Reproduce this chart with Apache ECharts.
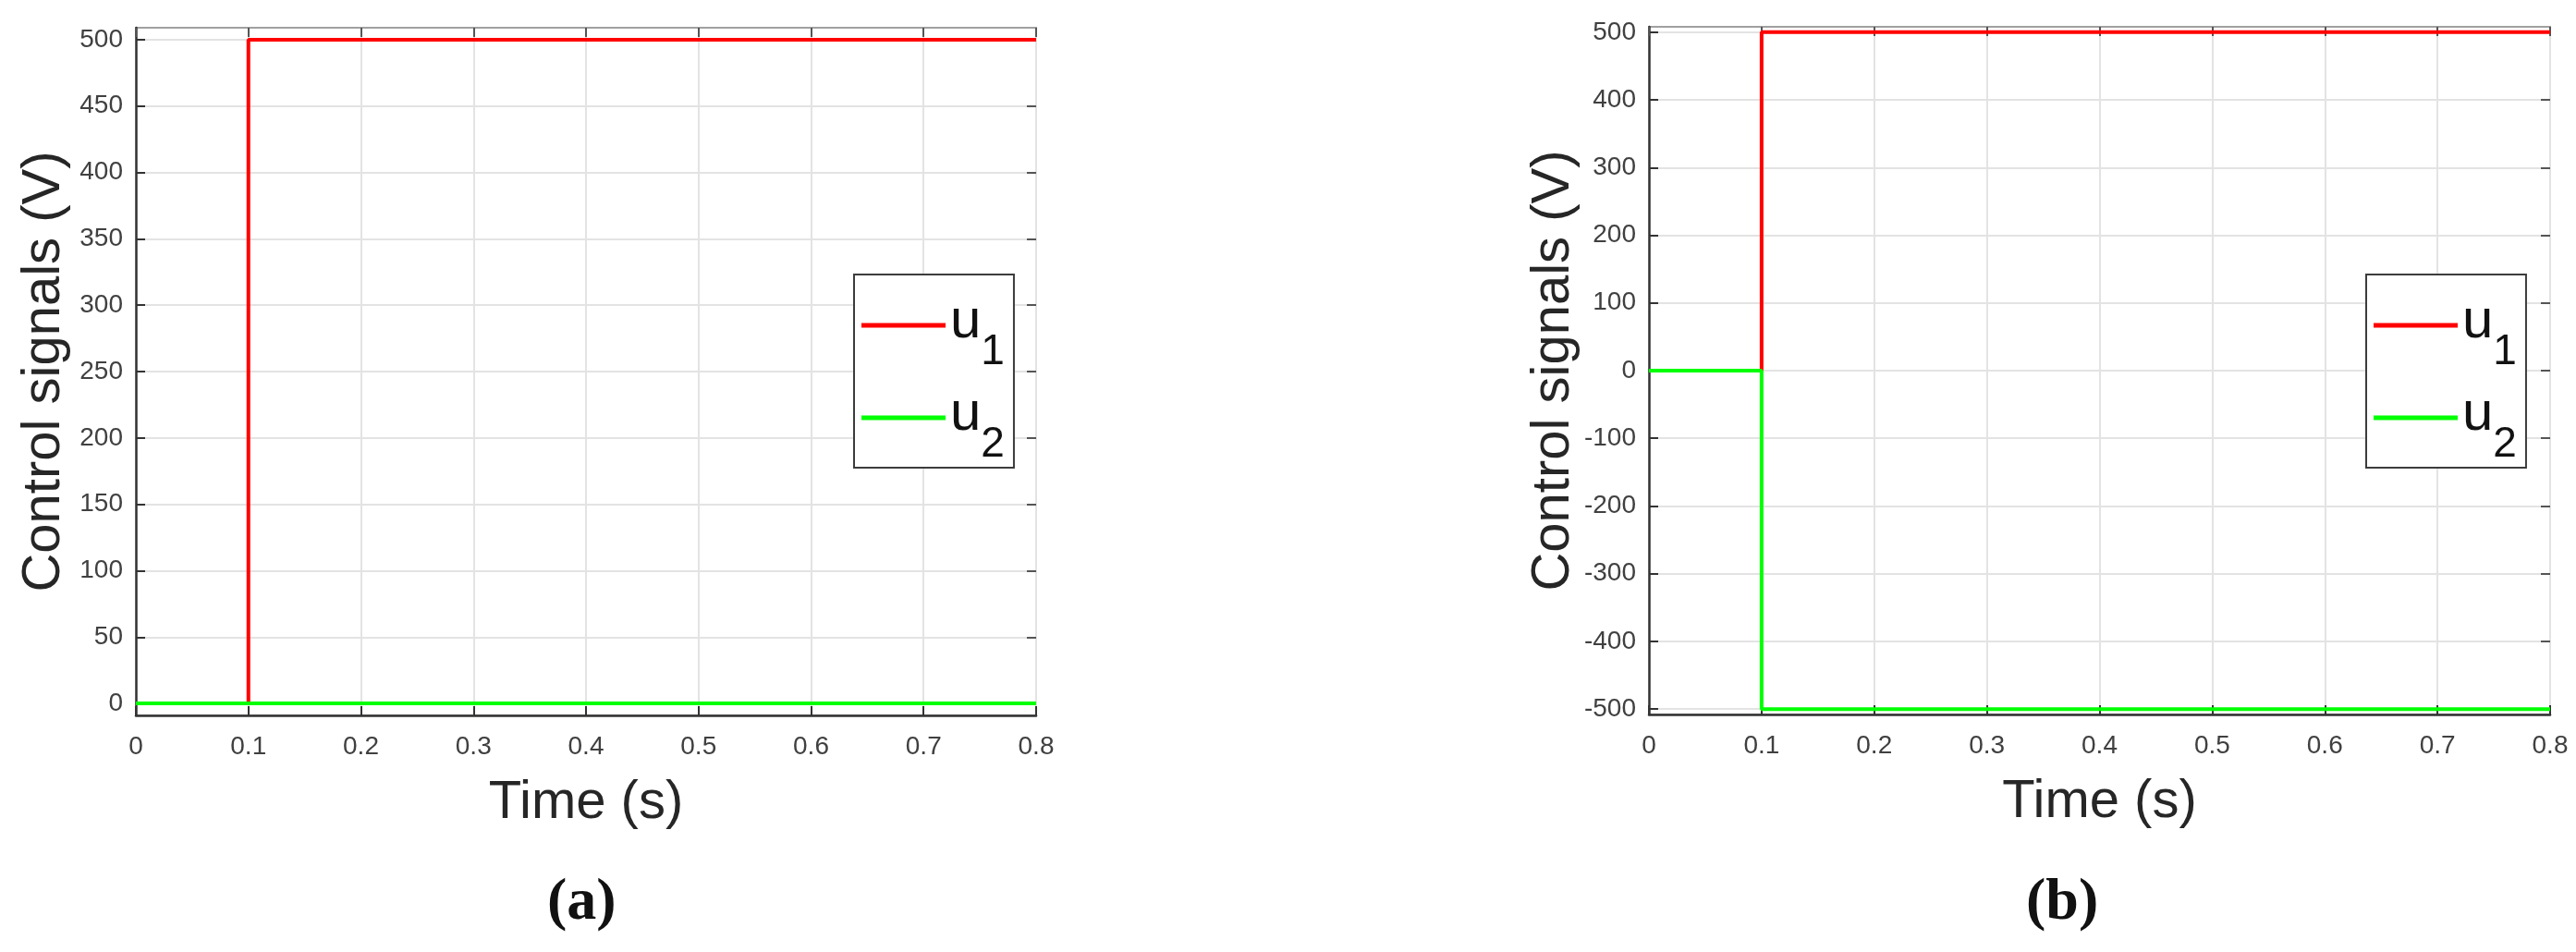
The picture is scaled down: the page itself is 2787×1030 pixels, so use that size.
<!DOCTYPE html>
<html>
<head>
<meta charset="utf-8">
<script src="https://cdn.jsdelivr.net/npm/echarts@6/dist/echarts.min.js"></script>
<style>
  html, body { margin: 0; padding: 0; background: #fff; }
  #main { width: 2787px; height: 1030px; }
</style>
</head>
<body>
<div id="main"></div>
<script>
// step responses of the two control signals, (a) and (b)
var timeA = [0, 0.1, 0.1, 0.8];
var u1A = [0, 0, 500, 500];
var u2A = [0, 0, 0, 0];

var timeB = [0, 0.1, 0.1, 0.8];
var u1B = [0, 0, 500, 500];
var u2B = [0, 0, -500, -500];

var yTicksA = [0, 50, 100, 150, 200, 250, 300, 350, 400, 450, 500];
var yTicksB = [-500, -400, -300, -200, -100, 0, 100, 200, 300, 400, 500];
var panelLabels = ['(a)', '(b)'];

var FONT = '"Liberation Sans", Arial, Helvetica, sans-serif';

function pairs(xs, ys) {
  return xs.map(function (x, i) { return [x, ys[i]]; });
}

var mychart = echarts.init(document.getElementById('main'));

function mainX(gi) {
  return {
    type: 'value', gridIndex: gi, min: 0, max: 0.8, interval: 0.1,
    name: 'Time (s)', nameLocation: 'middle', nameGap: 66,
    nameTextStyle: { fontFamily: FONT, fontSize: 58, color: '#262626' },
    axisLine: { show: true, onZero: false, lineStyle: { color: '#333', width: 2.5 } },
    axisTick: { show: true, inside: true, length: 10, lineStyle: { color: '#333', width: 2 } },
    axisLabel: { fontFamily: FONT, fontSize: 28, color: '#404040', margin: 20 },
    splitLine: { show: true, lineStyle: { color: '#e3e3e3', width: 2 } }
  };
}
function topX(gi) {
  return {
    type: 'value', gridIndex: gi, position: 'top', min: 0, max: 0.8, interval: 0.1,
    axisLine: { show: false, onZero: false },
    axisTick: { show: true, inside: true, length: 10, lineStyle: { color: '#555', width: 2 } },
    axisLabel: { show: false },
    splitLine: { show: false }
  };
}
function mainY(gi, mn, mx, ticks) {
  return {
    type: 'value', gridIndex: gi, min: mn, max: mx,
    name: 'Control signals (V)', nameLocation: 'middle', nameGap: 70,
    nameTextStyle: { fontFamily: FONT, fontSize: 58, color: '#262626' },
    axisLine: { show: true, onZero: false, lineStyle: { color: '#333', width: 2.5 } },
    axisTick: { show: true, inside: true, length: 10, customValues: ticks, lineStyle: { color: '#333', width: 2 } },
    axisLabel: { fontFamily: FONT, fontSize: 28, color: '#404040', margin: 14, customValues: ticks },
    splitLine: { show: true, lineStyle: { color: '#e3e3e3', width: 2 } }
  };
}
function rightY(gi, mn, mx, ticks) {
  return {
    type: 'value', gridIndex: gi, position: 'right', min: mn, max: mx,
    axisLine: { show: false, onZero: false },
    axisTick: { show: true, inside: true, length: 10, customValues: ticks, lineStyle: { color: '#555', width: 2 } },
    axisLabel: { show: false, customValues: ticks },
    splitLine: { show: false }
  };
}

var legendRich = {
  u: { fontFamily: FONT, fontSize: 60, color: '#111', lineHeight: 80, padding: [6, 0, 0, 0], verticalAlign: 'top' },
  s: { fontFamily: FONT, fontSize: 46, color: '#111', lineHeight: 44, padding: [46, 0, 0, 0], verticalAlign: 'top' }
};
function legend(left) {
  return {
    data: ['u1', 'u2'], orient: 'vertical', left: left, top: 297,
    padding: [15, 10, 2, 8], itemGap: 8, itemWidth: 91, itemHeight: 5,
    icon: 'rect',
    backgroundColor: '#fff', borderColor: '#3c3c3c', borderWidth: 2,
    selectedMode: false,
    formatter: function (n) { return '{u|u}{s|' + n.slice(1) + '}'; },
    textStyle: { rich: legendRich }
  };
}
function line(name, color, xi, yi, data) {
  return {
    name: name, type: 'line', xAxisIndex: xi, yAxisIndex: yi,
    data: data, symbol: 'none', animation: false,
    lineStyle: { color: color, width: 4 }, itemStyle: { color: color }
  };
}

var option = {
  backgroundColor: '#fff',
  grid: [
    { left: 147, top: 30, width: 974, height: 744, show: true, borderColor: '#a0a0a0', borderWidth: 2, backgroundColor: '#fff' },
    { left: 1784, top: 29, width: 975, height: 744, show: true, borderColor: '#a0a0a0', borderWidth: 2, backgroundColor: '#fff' }
  ],
  xAxis: [mainX(0), mainX(1), topX(0), topX(1)],
  yAxis: [
    mainY(0, -9, 509, yTicksA), mainY(1, -508, 508, yTicksB),
    rightY(0, -9, 509, yTicksA), rightY(1, -508, 508, yTicksB)
  ],
  legend: [legend(924), legend(2560)],
  graphic: [
    { type: 'text', left: 632 - 40, top: 945, style: { text: panelLabels[0], font: 'bold 64px "Liberation Serif", "Times New Roman", serif', fill: '#111' } },
    { type: 'text', left: 2232 - 40, top: 945, style: { text: panelLabels[1], font: 'bold 64px "Liberation Serif", "Times New Roman", serif', fill: '#111' } }
  ],
  series: [
    line('u1', '#ff0000', 0, 0, pairs(timeA, u1A)),
    line('u2', '#00ff00', 0, 0, pairs(timeA, u2A)),
    line('u1', '#ff0000', 1, 1, pairs(timeB, u1B)),
    line('u2', '#00ff00', 1, 1, pairs(timeB, u2B))
  ]
};
mychart.setOption(option);

window.addEventListener('resize', function () {
  mychart.resize();
});
</script>
</body>
</html>
